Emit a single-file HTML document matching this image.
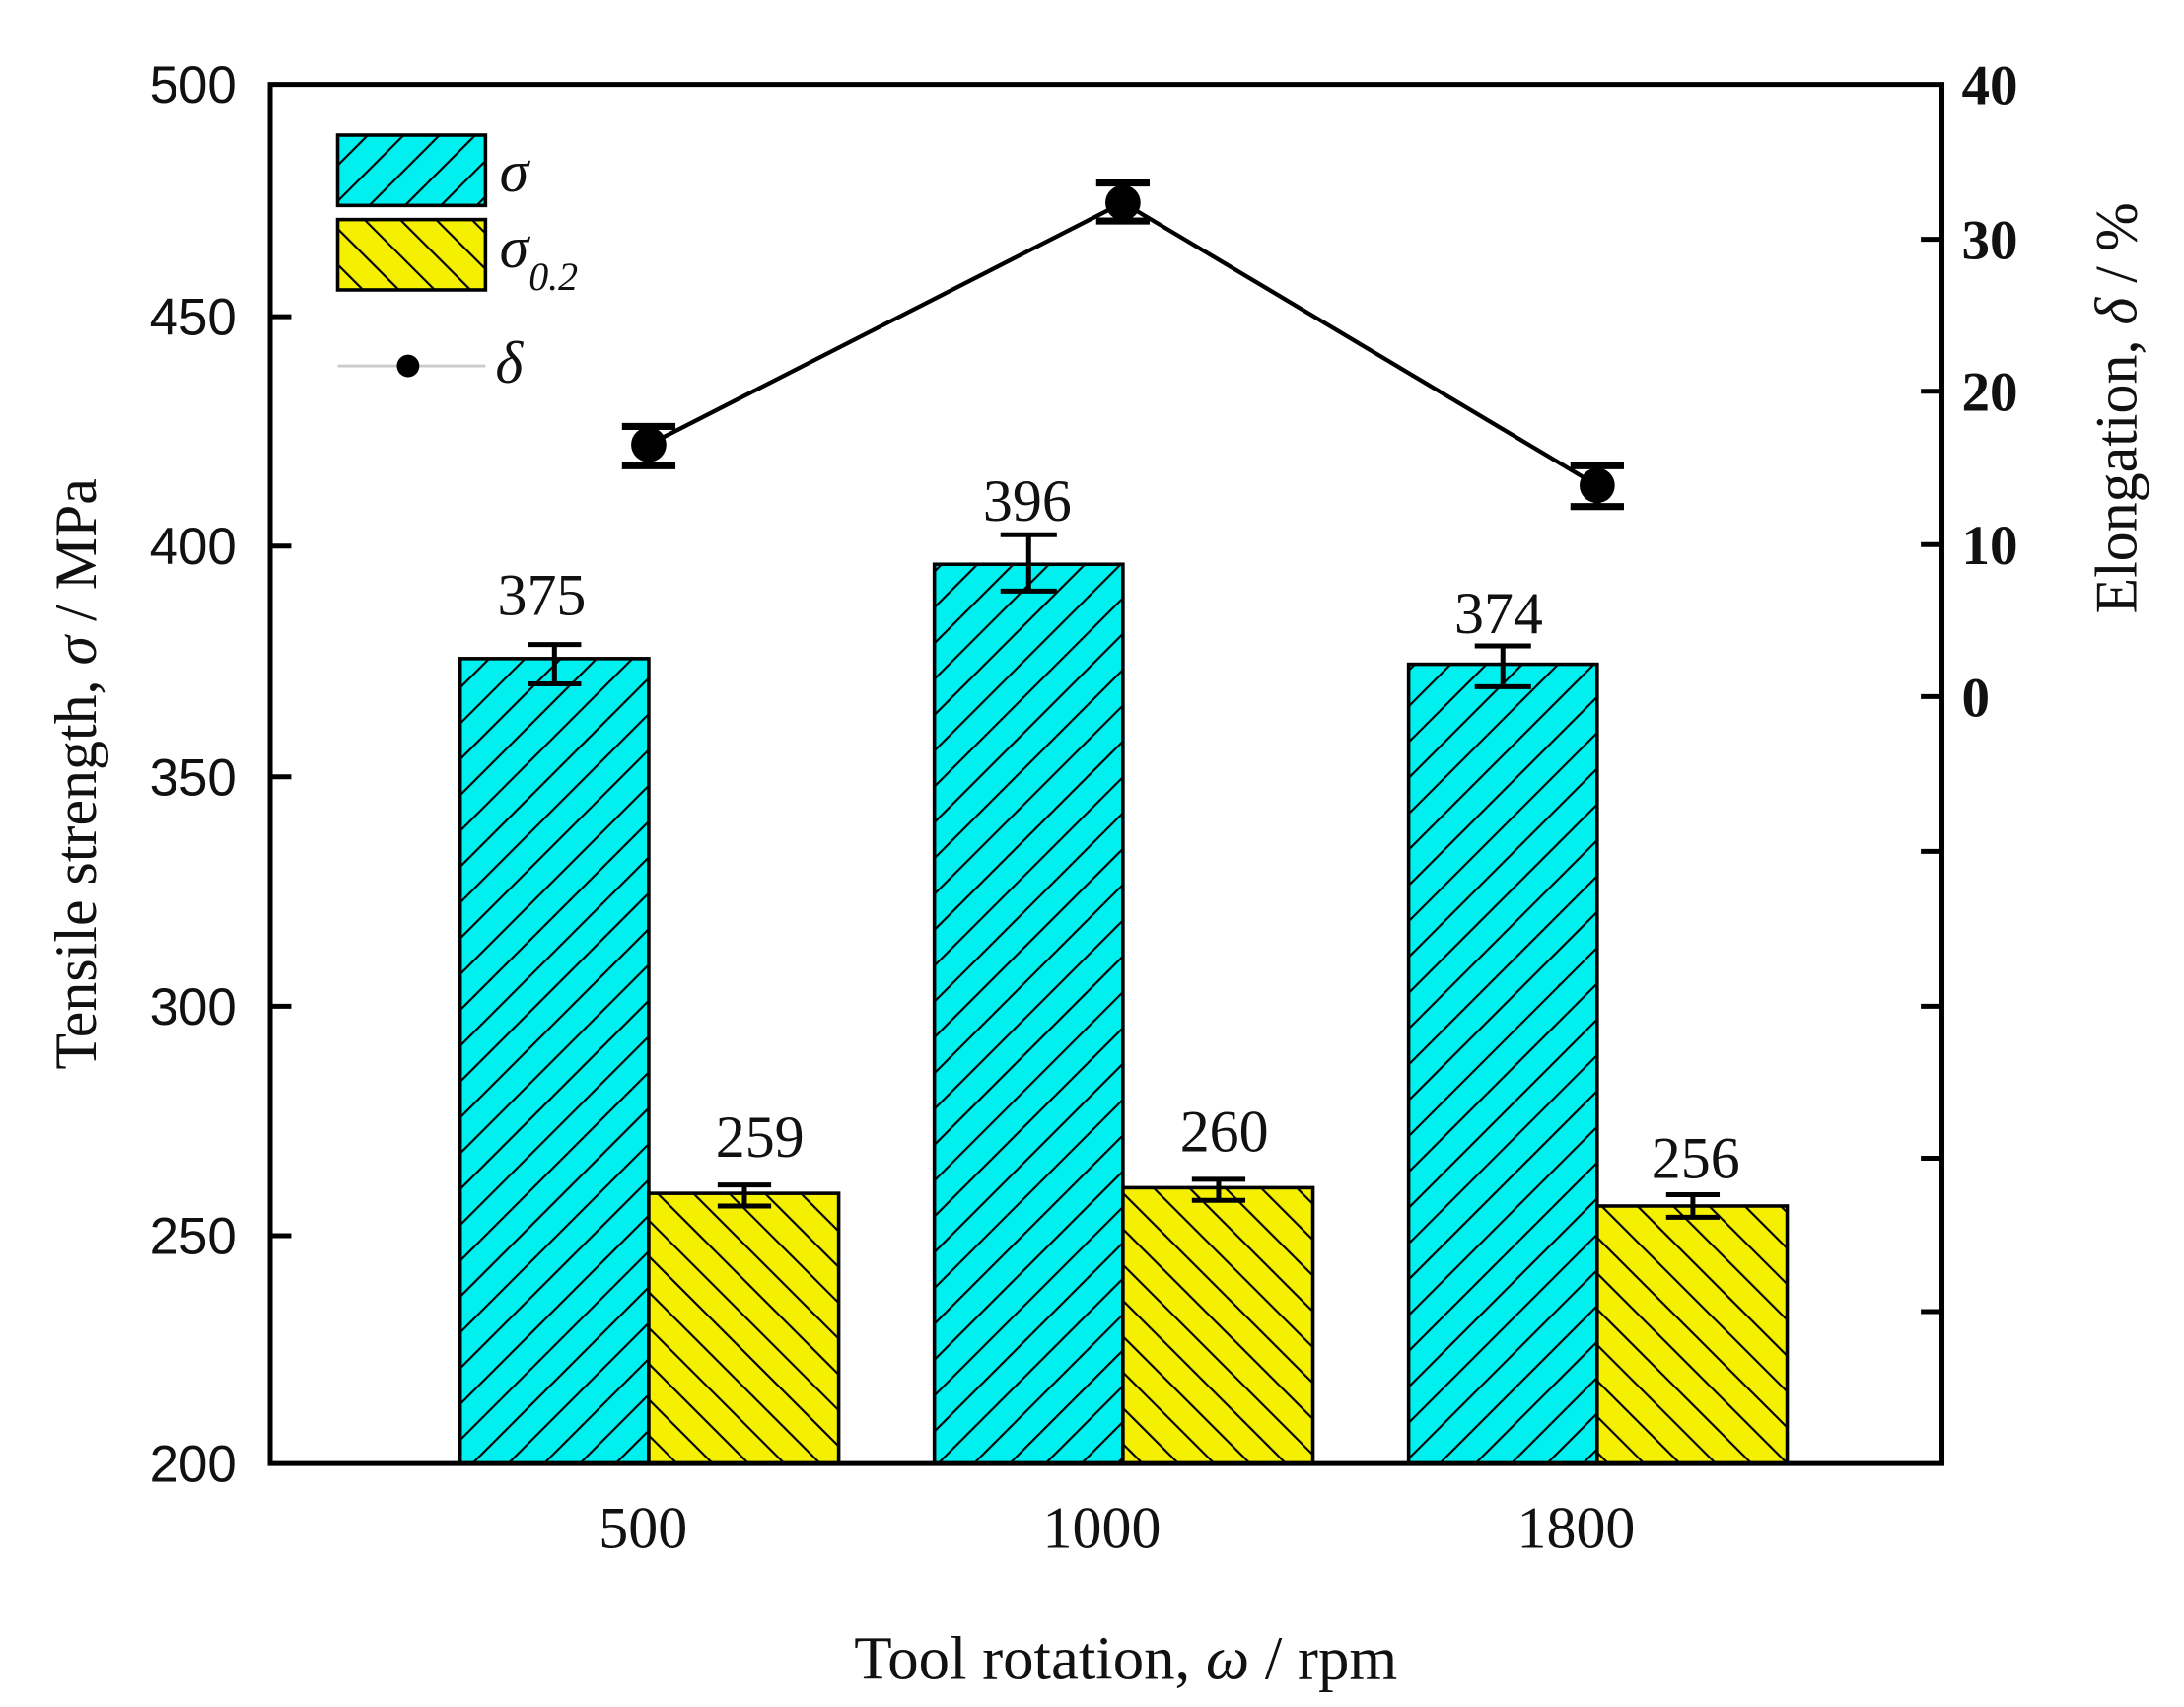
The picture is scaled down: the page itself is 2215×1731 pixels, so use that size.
<!DOCTYPE html>
<html><head><meta charset="utf-8"><style>html,body{margin:0;padding:0;background:#fff}svg{display:block}</style></head>
<body>
<svg width="2215" height="1731" viewBox="0 0 1552 1213" preserveAspectRatio="none" xmlns="http://www.w3.org/2000/svg">
<defs>
<pattern id="hc" patternUnits="userSpaceOnUse" width="18" height="18" patternTransform="rotate(45)">
<rect width="18" height="18" fill="#00f0f0"/><line x1="0" y1="0" x2="0" y2="18" stroke="#000" stroke-width="3"/></pattern>
<pattern id="hy" patternUnits="userSpaceOnUse" width="18" height="18" patternTransform="rotate(-45)">
<rect width="18" height="18" fill="#f5f000"/><line x1="0" y1="0" x2="0" y2="18" stroke="#000" stroke-width="3"/></pattern>
</defs>
<rect width="1552" height="1213" fill="#fff"/>
<g stroke="#000" stroke-width="2.5">
<rect x="327" y="468" width="134" height="572" fill="url(#hc)"/>
<rect x="461" y="848" width="135" height="192" fill="url(#hy)"/>
<rect x="664" y="401" width="134" height="639" fill="url(#hc)"/>
<rect x="798" y="844" width="135" height="196" fill="url(#hy)"/>
<rect x="1001" y="472" width="134" height="568" fill="url(#hc)"/>
<rect x="1135" y="857" width="135" height="183" fill="url(#hy)"/>
</g>
<g stroke="#000" stroke-width="3.5" fill="none">
<path d="M394 458V486M375 458H413M375 486H413"/>
<path d="M731 380V420M711 380H751M711 420H751"/>
<path d="M1068 459V488M1048 459H1088M1048 488H1088"/>
<path d="M529 842V857M510 842H548M510 857H548"/>
<path d="M866 838V853M847 838H885M847 853H885"/>
<path d="M1203 849V865M1184 849H1222M1184 865H1222"/>
</g>
<polyline points="461,316 798,144 1135,345" fill="none" stroke="#000" stroke-width="3"/>
<g stroke="#000" stroke-width="5" fill="none">
<path d="M461 303V331M442 303H480M442 331H480"/>
<path d="M798 130V157M779 130H817M779 157H817"/>
<path d="M1135 331V360M1116 331H1154M1116 360H1154"/>
</g>
<circle cx="461" cy="316" r="12.5" fill="#000"/>
<circle cx="798" cy="144" r="12.5" fill="#000"/>
<circle cx="1135" cy="345" r="12.5" fill="#000"/>
<rect x="192" y="60" width="1188" height="980" fill="none" stroke="#000" stroke-width="3.5"/>
<g stroke="#000" stroke-width="3.5">
<path d="M192 225H207M192 388H207M192 552H207M192 715H207M192 878H207"/>
<path d="M1380 170H1365M1380 278H1365M1380 387H1365M1380 495H1365M1380 605H1365M1380 715H1365M1380 823H1365M1380 932H1365"/>
</g>
<g font-family="Liberation Sans, sans-serif" font-size="37" text-anchor="end" fill="#111">
<text x="168" y="73">500</text><text x="168" y="238">450</text><text x="168" y="401">400</text>
<text x="168" y="565">350</text><text x="168" y="728">300</text><text x="168" y="891">250</text><text x="168" y="1053">200</text>
</g>
<g font-family="Liberation Serif, serif" font-size="40" font-weight="bold" fill="#111">
<text x="1394" y="74">40</text><text x="1394" y="184">30</text><text x="1394" y="292">20</text><text x="1394" y="401">10</text><text x="1394" y="509">0</text>
</g>
<g font-family="Liberation Serif, serif" font-size="42" text-anchor="middle" fill="#111">
<text x="385" y="437">375</text><text x="730" y="370">396</text><text x="1065" y="450">374</text>
<text x="540" y="822">259</text><text x="870" y="818">260</text><text x="1205" y="837">256</text>
<text x="457" y="1100">500</text><text x="783" y="1100">1000</text><text x="1120" y="1100">1800</text>
<text x="800" y="1193" font-size="44">Tool rotation, <tspan font-style="italic">ω</tspan> / rpm</text>
<text transform="translate(68,550) rotate(-90)" font-size="42">Tensile strength, <tspan font-style="italic">σ</tspan> / MPa</text>
<text transform="translate(1518,290) rotate(-90)" font-size="42">Elongation, <tspan font-style="italic">δ</tspan> / %</text>
</g>
<rect x="240" y="96" width="105" height="50" fill="url(#hc)" stroke="#000" stroke-width="2.5"/>
<rect x="240" y="156" width="105" height="50" fill="url(#hy)" stroke="#000" stroke-width="2.5"/>
<line x1="240" y1="260" x2="345" y2="260" stroke="#ccc" stroke-width="2"/>
<circle cx="290" cy="260" r="8" fill="#000"/>
<g font-family="Liberation Serif, serif" font-style="italic" font-size="42" fill="#111">
<text x="355" y="136">σ</text>
<text x="355" y="190">σ<tspan font-size="28" dy="16">0.2</tspan></text>
<text x="352" y="272">δ</text>
</g>
</svg>
</body></html>
